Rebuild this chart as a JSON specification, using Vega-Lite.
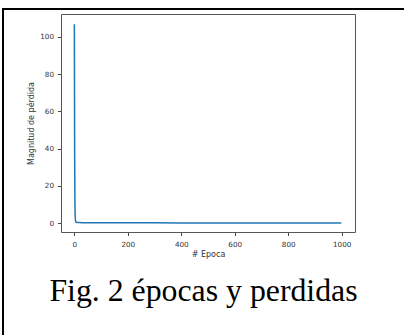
{
  "$schema": "https://vega.github.io/schema/vega-lite/v6.json",
  "width": 401,
  "height": 326,
  "autosize": {"type": "none"},
  "padding": {"left": 3, "top": 9, "right": 0, "bottom": 0},
  "background": "white",
  "title": {
    "text": "Fig. 2 épocas y perdidas",
    "orient": "bottom",
    "anchor": "middle",
    "frame": "group",
    "offset": -36,
    "baseline": "alphabetic",
    "font": "Liberation Serif",
    "fontSize": 31.8,
    "fontWeight": "normal",
    "color": "black"
  },
  "config": {
    "view": {"stroke": null},
    "axis": {
      "grid": false,
      "labelFont": "DejaVu Sans",
      "labelFontSize": 7.2,
      "labelColor": "#333333",
      "titleFont": "DejaVu Sans",
      "titleFontSize": 8,
      "titleFontWeight": "normal",
      "titleColor": "#333333",
      "tickColor": "#444444",
      "domainColor": "#555555",
      "tickSize": 3.5,
      "labelPadding": 4,
      "titlePadding": 4,
      "labelFlush": false,
      "labelOverlap": false
    }
  },
  "data": {
    "values": [
      {"epoch": 0, "loss": 106.7},
      {"epoch": 1, "loss": 40},
      {"epoch": 2, "loss": 12},
      {"epoch": 3, "loss": 4},
      {"epoch": 4, "loss": 1.6},
      {"epoch": 5, "loss": 0.9},
      {"epoch": 6, "loss": 0.6},
      {"epoch": 8, "loss": 0.45},
      {"epoch": 10, "loss": 0.4},
      {"epoch": 15, "loss": 0.35},
      {"epoch": 20, "loss": 0.33},
      {"epoch": 30, "loss": 0.3},
      {"epoch": 50, "loss": 0.28},
      {"epoch": 100, "loss": 0.25},
      {"epoch": 200, "loss": 0.22},
      {"epoch": 300, "loss": 0.2},
      {"epoch": 400, "loss": 0.19},
      {"epoch": 500, "loss": 0.18},
      {"epoch": 600, "loss": 0.17},
      {"epoch": 700, "loss": 0.16},
      {"epoch": 800, "loss": 0.15},
      {"epoch": 900, "loss": 0.15},
      {"epoch": 999, "loss": 0.14}
    ]
  },
  "layer": [
    {
      "layer": [
        {
          "mark": {"type": "line", "color": "#1f77b4", "strokeWidth": 1.5},
          "encoding": {
            "x": {
              "field": "epoch",
              "type": "quantitative",
              "scale": {"domain": [-50, 1050], "range": [58, 352], "nice": false, "zero": false},
              "axis": {"orient": "bottom", "offset": -103, "values": [0, 200, 400, 600, 800, 1000], "format": "d", "title": "# Epoca", "labelPadding": 4.5, "titlePadding": 3.5}
            },
            "y": {
              "field": "loss",
              "type": "quantitative",
              "scale": {"domain": [-4.7, 112.2], "range": [223, 5], "nice": false, "zero": false},
              "axis": {"orient": "left", "offset": -58, "values": [0, 20, 40, 60, 80, 100], "format": "d", "title": "Magnitud de pérdida", "labelPadding": 4, "titlePadding": 4}
            }
          }
        },
        {
          "mark": {"type": "point", "opacity": 0},
          "encoding": {
            "x": {
              "field": "epoch",
              "type": "quantitative",
              "scale": {"domain": [-50, 1050], "range": [58, 352], "nice": false, "zero": false},
              "axis": {"orient": "top", "offset": -5, "ticks": false, "labels": false, "title": null}
            },
            "y": {
              "field": "loss",
              "type": "quantitative",
              "scale": {"domain": [-4.7, 112.2], "range": [223, 5], "nice": false, "zero": false},
              "axis": {"orient": "right", "offset": -49, "ticks": false, "labels": false, "title": null}
            }
          }
        }
      ],
      "resolve": {"axis": {"x": "independent", "y": "independent"}}
    },
    {
      "mark": {"type": "point", "opacity": 0},
      "encoding": {
        "x": {
          "field": "epoch",
          "type": "quantitative",
          "axis": {"orient": "top", "offset": 0, "translate": 0, "domainColor": "black", "domainWidth": 2, "domainCap": "square", "ticks": false, "labels": false, "title": null}
        },
        "y": {
          "field": "loss",
          "type": "quantitative",
          "axis": {"orient": "left", "offset": 0, "translate": 0, "domainColor": "black", "domainWidth": 2, "domainCap": "square", "ticks": false, "labels": false, "title": null}
        }
      }
    }
  ],
  "resolve": {
    "scale": {"x": "independent", "y": "independent"},
    "axis": {"x": "independent", "y": "independent"}
  }
}
